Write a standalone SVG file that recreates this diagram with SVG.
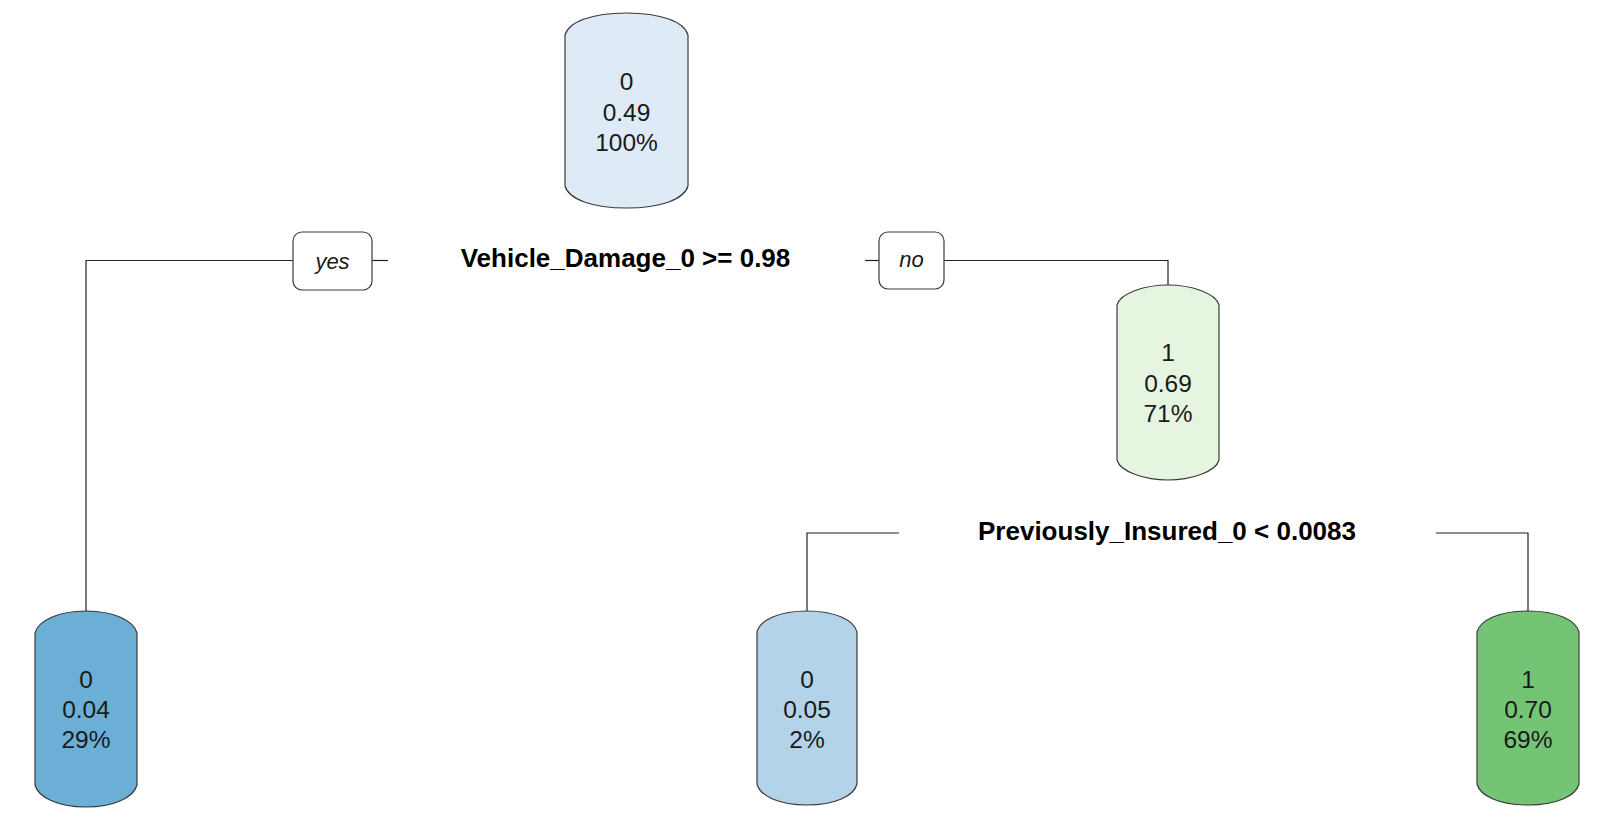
<svg xmlns="http://www.w3.org/2000/svg" width="1616" height="827" viewBox="0 0 1616 827">
<style>
.node path{stroke:#3a3a3a;stroke-width:1.2}
.nt{font-family:"Liberation Sans",Arial,sans-serif;font-size:24.5px;fill:#1a1a1a;text-anchor:middle}
.split{font-family:"Liberation Sans",Arial,sans-serif;font-size:26px;font-weight:bold;fill:#000;text-anchor:middle}
.lab rect{fill:#fff;stroke:#3a3a3a;stroke-width:1.2}
.lt{font-family:"Liberation Sans",Arial,sans-serif;font-size:22px;font-style:italic;fill:#1a1a1a;text-anchor:middle}
#connectors path{fill:none;stroke:#222;stroke-width:1.2}
</style>
<rect width="1616" height="827" fill="#fff"/>
<g id="connectors">
<path d="M86,611 V260.5 H293"/>
<path d="M372,260.5 H388"/>
<path d="M865,260.5 H879"/>
<path d="M944,260.5 H1168 V285"/>
<path d="M899,533 H807 V611"/>
<path d="M1436,533 H1528 V611"/>
</g>
<g id="node-root" class="node">
<path fill="#deebf7" d="M565,35 C568.7,21.8 592.1,13 626.5,13 C660.9,13 684.3,21.8 688,35 L688,186 C684.3,199.2 660.9,208 626.5,208 C592.1,208 568.7,199.2 565,186 Z"/>
<text class="nt" x="626.5" y="90">0</text>
<text class="nt" x="626.5" y="121">0.49</text>
<text class="nt" x="626.5" y="151">100%</text>
</g>
<g id="split-root">
<text class="split" x="625.5" y="267">Vehicle_Damage_0 &gt;= 0.98</text>
</g>
<g id="label-yes" class="lab">
<rect x="293" y="232" width="79" height="58" rx="9"/>
<text class="lt" x="332.5" y="269">yes</text>
</g>
<g id="label-no" class="lab">
<rect x="879" y="232" width="65" height="57" rx="9"/>
<text class="lt" x="911.5" y="267">no</text>
</g>
<g id="node-2" class="node">
<path fill="#e5f5e0" d="M1117,305 C1120.1,293 1145.6,285 1168,285 C1190.4,285 1215.9,293 1219,305 L1219,460 C1215.9,472 1190.4,480 1168,480 C1145.6,480 1120.1,472 1117,460 Z"/>
<text class="nt" x="1168" y="361">1</text>
<text class="nt" x="1168" y="392">0.69</text>
<text class="nt" x="1168" y="422">71%</text>
</g>
<g id="split-2">
<text class="split" x="1167" y="540">Previously_Insured_0 &lt; 0.0083</text>
</g>
<g id="leaf-1" class="node">
<path fill="#6baed6" d="M35,633 C38.1,621 57.4,611 86,611 C114.6,611 133.9,621 137,633 L137,785 C133.9,797 114.6,807 86,807 C57.4,807 38.1,797 35,785 Z"/>
<text class="nt" x="86" y="688">0</text>
<text class="nt" x="86" y="718">0.04</text>
<text class="nt" x="86" y="748">29%</text>
</g>
<g id="leaf-2" class="node">
<path fill="#b3d3e8" d="M757,632 C760,620 779,611 807,611 C835,611 854,620 857,632 L857,784 C854,796 835,805 807,805 C779,805 760,796 757,784 Z"/>
<text class="nt" x="807" y="688">0</text>
<text class="nt" x="807" y="718">0.05</text>
<text class="nt" x="807" y="748">2%</text>
</g>
<g id="leaf-3" class="node">
<path fill="#74c476" d="M1477,632 C1480.1,620 1499.4,611 1528,611 C1556.6,611 1575.9,620 1579,632 L1579,784 C1575.9,796 1556.6,805 1528,805 C1499.4,805 1480.1,796 1477,784 Z"/>
<text class="nt" x="1528" y="688">1</text>
<text class="nt" x="1528" y="718">0.70</text>
<text class="nt" x="1528" y="748">69%</text>
</g>
</svg>
